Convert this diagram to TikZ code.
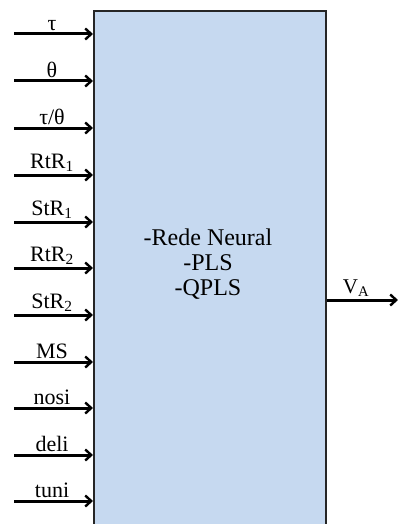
\documentclass[tikz,border=0pt]{standalone}
\usepackage{fontspec}
\setmainfont{Liberation Serif}
\usetikzlibrary{arrows.meta}
\definecolor{boxblue}{RGB}{198,217,240}
\begin{document}
\begin{tikzpicture}[x=1pt,y=-1pt,
  inarrow/.style={line width=3pt,-{Straight Barb[length=6pt,width=11pt,line width=2.4pt]}},
  inlabel/.style={font=\fontsize{22}{24}\selectfont,anchor=south,inner sep=3pt},
  mainbox/.style={fill=boxblue,draw=black!85,line width=2.4pt,minimum width=232pt,minimum height=540pt,anchor=north west,inner sep=0pt}]
\useasboundingbox (0,0) rectangle (398,524);
\node[mainbox] (box) at (93,10) {};
\node[font=\fontsize{24}{25}\selectfont,align=center] (txt) at (208,264) {-Rede Neural\\-PLS\\-QPLS};
\foreach \n/\y/\t in {a/34/{τ},b/81/{θ},c/128/{τ/θ},d/175/{RtR\textsubscript{1}},e/222/{StR\textsubscript{1}},f/268/{RtR\textsubscript{2}},g/315/{StR\textsubscript{2}},h/362/{MS},i/408/{nosi},j/455/{deli},k/501/{tuni}}{
  \coordinate (s\n) at (14,\y);
  \draw[inarrow] (s\n) -- (s\n -| box.west);
  \node[inlabel] (l\n) at (52,\y) {\t};
}
\coordinate (o) at (398,300);
\draw[inarrow] (o -| box.east) -- (o);
\node[font=\fontsize{21}{23}\selectfont,anchor=south,inner sep=3pt] (va) at (356,300) {V\textsubscript{A}};
\end{tikzpicture}
\end{document}
